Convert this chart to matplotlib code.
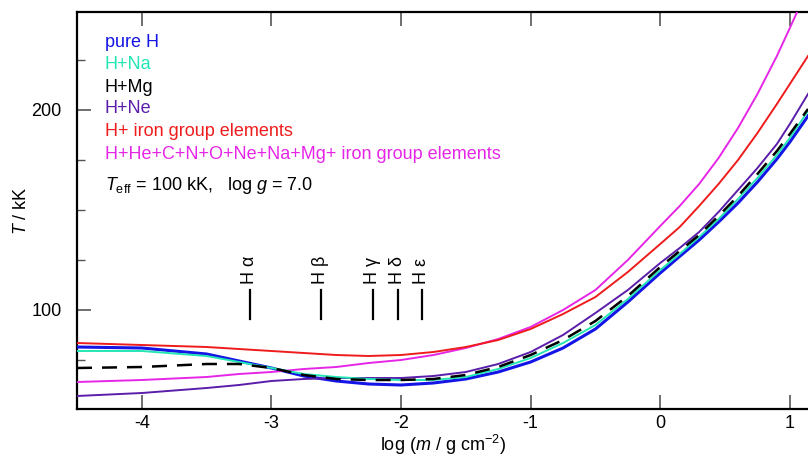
import numpy as np
from matplotlib import pyplot as plt
from matplotlib.ticker import MultipleLocator

plt.rcParams['font.family'] = ['Liberation Sans', 'DejaVu Sans']
plt.rcParams['mathtext.fontset'] = 'custom'
plt.rcParams['mathtext.rm'] = 'Liberation Sans'
plt.rcParams['mathtext.it'] = 'Liberation Sans:italic'
plt.rcParams['axes.unicode_minus'] = False
plt.rcParams['font.size'] = 13

# log column mass
log_m = [-4.5, -4.0, -3.5, -3.25, -3.0, -2.75, -2.5, -2.25, -2.0, -1.75, -1.5,
         -1.25, -1.0, -0.75, -0.5, -0.25, 0.0, 0.15, 0.3, 0.45, 0.6, 0.75, 0.9,
         1.0, 1.14]

# temperature structures [kK]
t_pure_h = [81.5, 81, 78, 74.5, 71, 67, 64.5, 63, 62.5, 63.5, 65.5,
            69, 74, 81, 90.5, 104, 118.5, 126.8, 135, 144, 153.5, 164, 175.5,
            184, 197]
t_h_na = [79.5, 79.5, 77, 74, 71, 68, 66.5, 65.5, 65, 65, 66.5,
          70.5, 76, 83.5, 92.5, 105.5, 120, 128, 136.5, 145.5, 155.5, 166, 177.5,
          186, 199.5]
t_h_mg = [71, 71.5, 73, 73, 71, 67.5, 65.5, 65, 65, 65.5, 67.5,
          71.5, 77.5, 85, 94.5, 107, 121.5, 129.5, 137.5, 147, 157, 168, 179.5,
          188, 200.5]
t_h_ne = [57, 58.5, 61, 62.5, 64.5, 65.5, 66, 66, 66, 67, 69,
          73, 79, 87.5, 98.5, 110, 123.5, 131, 139, 149, 160, 171, 183,
          193, 208]
t_h_fe = [83.5, 82.5, 81.5, 80.5, 79.5, 78.5, 77.5, 77, 77.5, 79, 81.5,
          85, 90.5, 98, 106.5, 119, 133, 141.5, 152, 163, 175, 188.5, 203,
          213, 227]
t_all = [64, 65, 66.5, 68, 69, 70.5, 71.5, 73.5, 75, 77.5, 81,
         85.5, 91.5, 100, 110, 125, 142, 152, 163, 176, 191, 208, 227,
         241, 261]

labels = ['pure H', 'H+Na', 'H+Mg', 'H+Ne', 'H+ iron group elements',
          'H+He+C+N+O+Ne+Na+Mg+ iron group elements']
colors = ['#1414e6', '#22e6b4', 'black', '#5a1eaa', '#ee1c1c', '#e626e6']

# Balmer line formation depths
line_names = ['H α', 'H β', 'H γ', 'H δ', 'H ε']
line_logm = [-3.166, -2.619, -2.218, -2.025, -1.84]

fig = plt.figure(figsize=(8.08, 4.57), dpi=100)
ax = fig.add_axes([77/808, 48/457, 731/808, 397/457])

series = [t_pure_h, t_h_na, t_h_mg, t_h_ne, t_h_fe, t_all]
order = [5, 4, 3, 1, 0, 2]
for i in order:
    if i == 2:
        ax.plot(log_m, series[i], color=colors[i], lw=1.8, dashes=(6, 4), zorder=5)
    elif i == 0:
        ax.plot(log_m, series[i], color=colors[i], lw=2.2, zorder=3)
    else:
        ax.plot(log_m, series[i], color=colors[i], lw=1.4, zorder=4)

for name, lm in zip(line_names, line_logm):
    ax.plot([lm, lm], [95.5, 110], color='black', lw=1.6)
    ax.text(lm, 113, name, rotation=90, ha='center', va='bottom')

ys = [0.924, 0.869, 0.811, 0.756, 0.700, 0.642]
for lab, c, y in zip(labels, colors, ys):
    ax.text(0.038, y, lab, color=c, transform=ax.transAxes, va='center')
ax.text(0.038, 0.562, r'$T_{\rm eff}$ = 100 kK,   log $g$ = 7.0',
        transform=ax.transAxes, va='center')

ax.set_xlim(-4.5, 1.14)
ax.set_ylim(50.5, 249)
ax.yaxis.set_major_locator(MultipleLocator(100))
ax.yaxis.set_minor_locator(MultipleLocator(25))
ax.xaxis.set_major_locator(MultipleLocator(1))
ax.tick_params(which='both', direction='in', top=True, right=False, color='#555555')
ax.tick_params(which='major', length=10, width=1.2)
ax.tick_params(axis='x', which='major', pad=4)
ax.tick_params(axis='y', which='major', pad=11)
ax.tick_params(which='minor', length=6, width=1.0)
for s in ['left', 'bottom', 'top']:
    ax.spines[s].set_linewidth(1.6)
ax.spines['right'].set_visible(False)

ax.set_xlabel(r'log ($m$ / g cm$^{-2}$)', labelpad=1)
ax.set_ylabel(r'$T$ / kK', labelpad=1)

fig.savefig('out.png', dpi=100)
